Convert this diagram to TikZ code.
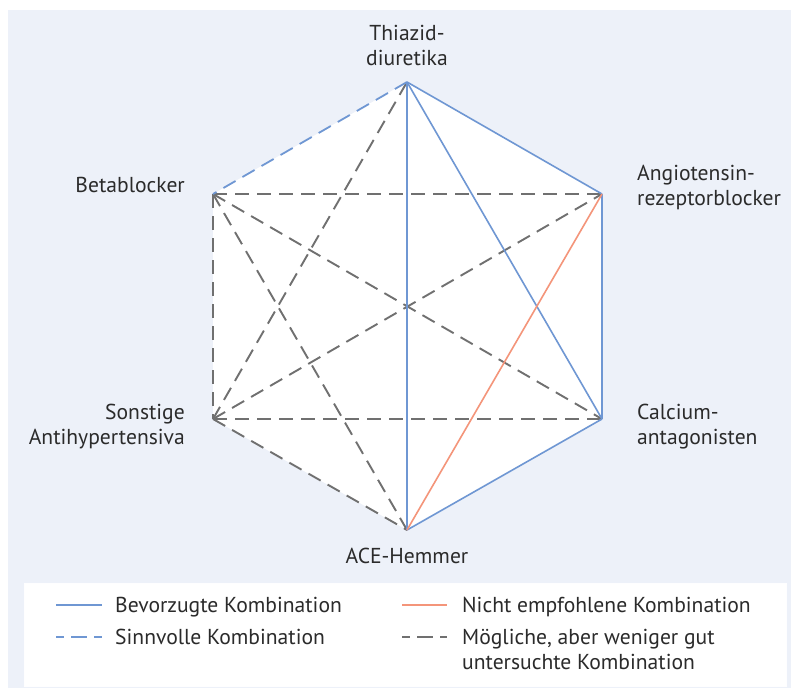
\documentclass[tikz,border=0pt]{standalone}
\usepackage{fontspec}
\setmainfont{PT Sans}
\definecolor{bgblue}{HTML}{EDF1F9}
\definecolor{lblue}{HTML}{6F97D3}
\definecolor{lred}{HTML}{F4957A}
\definecolor{lgray}{HTML}{707070}
\definecolor{txt}{HTML}{2B2B2B}
\tikzset{
  pref/.style={draw=lblue,line width=1.6pt},
  notrec/.style={draw=lred,line width=1.6pt},
  sinn/.style={draw=lblue,line width=1.8pt,dash pattern=on 14pt off 8pt},
  moeg/.style={draw=lgray,line width=1.9pt,dash pattern=on 14pt off 8pt},
  lbl/.style={font=\fontsize{21.6}{25}\selectfont,text=txt,inner sep=0pt},
  vtx/.style={coordinate}
}
\begin{document}
\begin{tikzpicture}[x=1pt,y=-1pt]
\useasboundingbox (0,0) rectangle (791,688);
\fill[white] (0,0) rectangle (791,688);
\fill[bgblue] (8,10) rectangle (791,688);
% vertices
\coordinate (T) at (407,82);
\coordinate (AR) at (602,194);
\coordinate (CA) at (602,419);
\coordinate (B) at (407,530);
\coordinate (SA) at (213,419);
\coordinate (BB) at (213,194);
\fill[white] (T) -- (AR) -- (CA) -- (B) -- (SA) -- (BB) -- cycle;
% gray dashed
\draw[moeg] (BB) -- (AR);
\draw[moeg] (BB) -- (CA);
\draw[moeg] (BB) -- (SA);
\draw[moeg] (BB) -- (B);
\draw[moeg] (SA) -- (T);
\draw[moeg] (SA) -- (AR);
\draw[moeg] (SA) -- (CA);
\draw[moeg] (SA) -- (B);
% blue dashed
\draw[sinn] (T) -- (BB);
% preferred
\draw[pref] (T) -- (B);
\draw[pref] (T) -- (CA);
\draw[pref] (T) -- (AR);
\draw[pref] (AR) -- (CA);
\draw[pref] (CA) -- (B);
% not recommended
\draw[notrec] (AR) -- (B);
% labels (base = baseline of last line)
\node[lbl,align=center,anchor=base] (lT) at (407,65) {Thiazid-\\diuretika};
\node[lbl,align=left,anchor=base west] (lAR) at (637,205) {Angiotensin-\\rezeptorblocker};
\node[lbl,align=left,anchor=base west] (lCA) at (637,444) {Calcium-\\antagonisten};
\node[lbl,align=right,anchor=base east] (lBB) at (185,192) {Betablocker};
\node[lbl,align=right,anchor=base east] (lSA) at (185,444) {Sonstige\\Antihypertensiva};
\node[lbl,anchor=base] (lB) at (407,563) {ACE-Hemmer};
% legend
\draw[white!96!bgblue,fill=white,line width=1pt] (24,583) rectangle (786,686);
\coordinate (a1) at (56,605); \coordinate (a2) at (102,605);
\draw[pref] (a1) -- (a2);
\node[lbl,anchor=base west] (t1) at (115,612) {Bevorzugte Kombination};
\coordinate (b1) at (56,637); \coordinate (b2) at (102,637);
\draw[sinn,dash pattern=on 8pt off 7pt on 16pt off 7pt on 8pt] (b1) -- (b2);
\node[lbl,anchor=base west] (t2) at (115,644) {Sinnvolle Kombination};
\coordinate (c1) at (402,605); \coordinate (c2) at (447,605);
\draw[notrec] (c1) -- (c2);
\node[lbl,anchor=base west] (t3) at (462,612) {Nicht empfohlene Kombination};
\coordinate (d1) at (402,637); \coordinate (d2) at (447,637);
\draw[moeg,dash pattern=on 8pt off 7pt on 16pt off 7pt on 8pt] (d1) -- (d2);
\node[lbl,anchor=base west,align=left] (t4) at (462,669) {Mögliche, aber weniger gut\\untersuchte Kombination};
\end{tikzpicture}
\end{document}
